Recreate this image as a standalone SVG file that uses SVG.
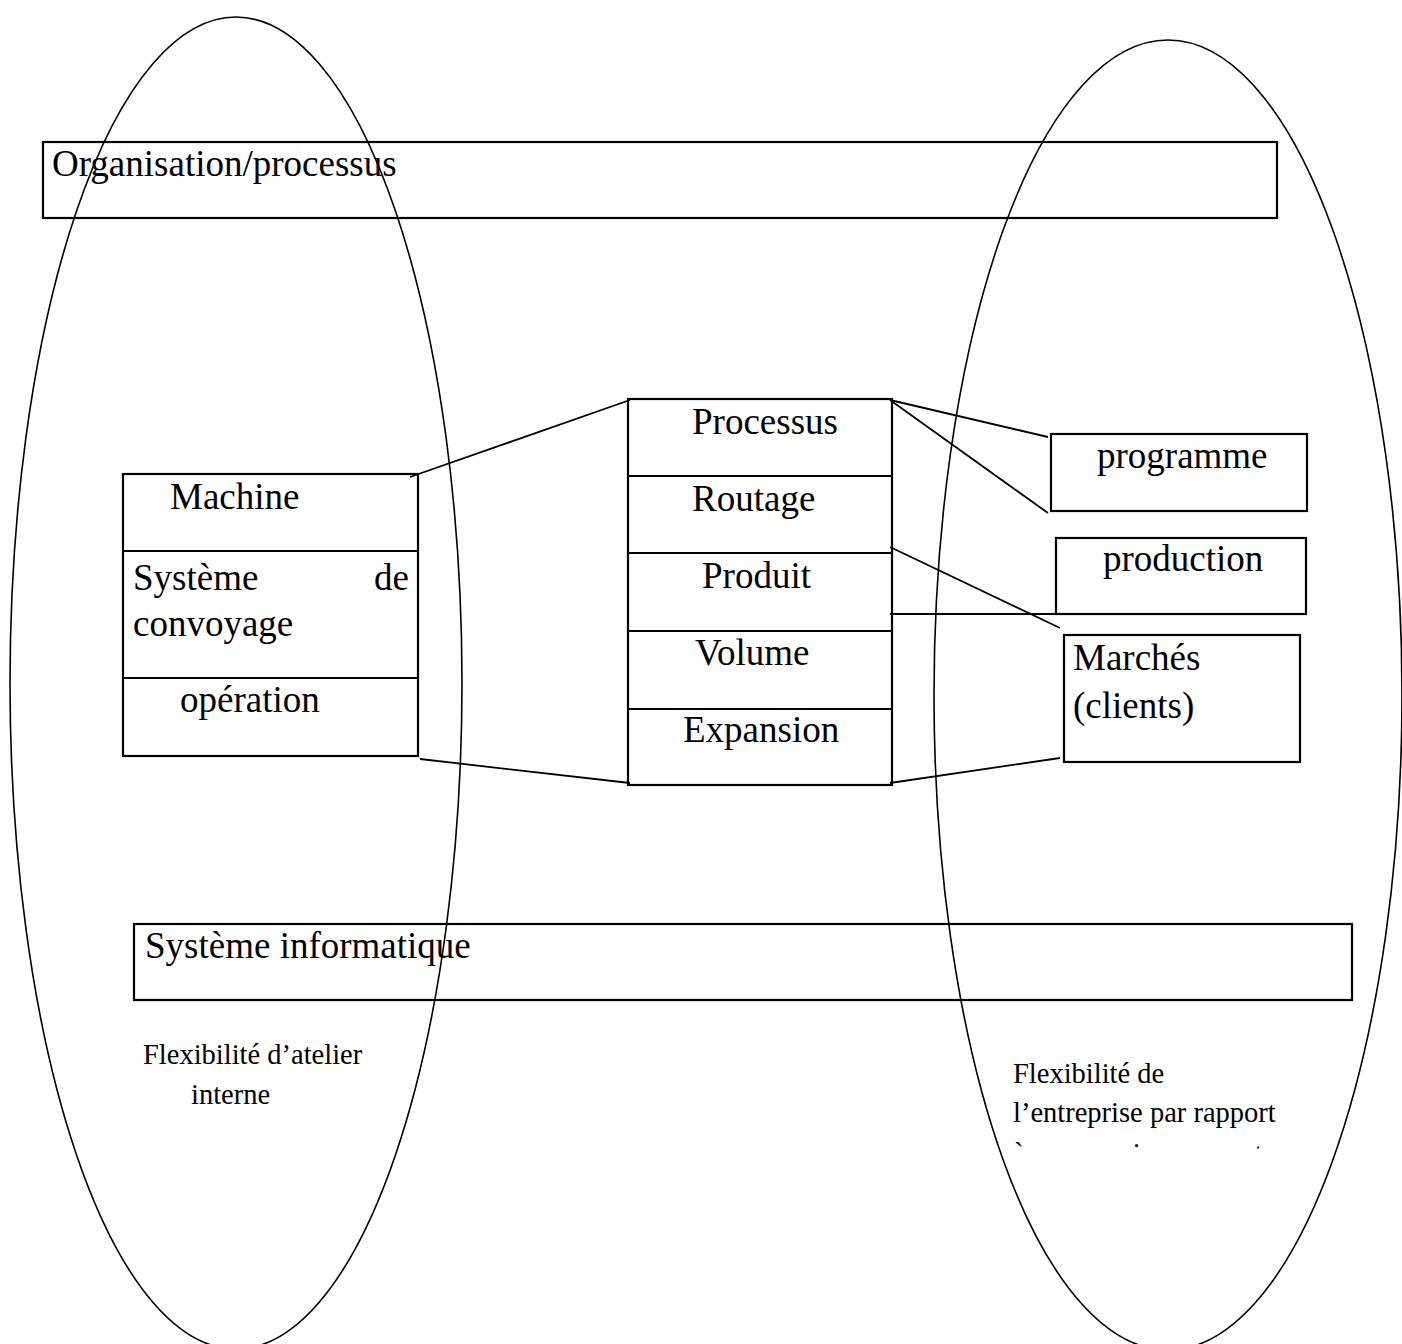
<svg xmlns="http://www.w3.org/2000/svg" width="1402" height="1344" viewBox="0 0 1402 1344">
<style>
.box{fill:none;stroke:#000;stroke-width:2.2}
.div{stroke:#000;stroke-width:2.2}
.ell{fill:none;stroke:#000;stroke-width:1.6}
.con{stroke:#000;stroke-width:1.8;fill:none}
.big{font-family:"Liberation Serif","Times New Roman",serif;font-size:37px;fill:#000}
.small{font-family:"Liberation Serif","Times New Roman",serif;font-size:28.5px;fill:#000}
</style>
<defs>
<clipPath id="clip3"><rect x="990" y="1138" width="320" height="10.5"/></clipPath>
</defs>
<rect width="1402" height="1344" fill="#fff"/>
<g id="org">
<rect class="box" x="43" y="142" width="1234" height="76"/>
<text class="big" x="52" y="176">Organisation/processus</text>
</g>
<g id="si">
<rect class="box" x="134" y="924" width="1218" height="76"/>
<text class="big" x="145" y="958">Système informatique</text>
</g>
<g id="atelier">
<rect class="box" x="123" y="474" width="295" height="282"/>
<line class="div" x1="123" y1="551" x2="418" y2="551"/>
<line class="div" x1="123" y1="678" x2="418" y2="678"/>
<text class="big" x="170" y="509">Machine</text>
<text class="big" x="133" y="590">Système</text>
<text class="big" x="409" y="590" text-anchor="end">de</text>
<text class="big" x="133" y="636">convoyage</text>
<text class="big" x="180" y="712">opération</text>
</g>
<g id="centre">
<rect class="box" x="628" y="399" width="264" height="386"/>
<line class="div" x1="628" y1="476" x2="892" y2="476"/>
<line class="div" x1="628" y1="553" x2="892" y2="553"/>
<line class="div" x1="628" y1="631" x2="892" y2="631"/>
<line class="div" x1="628" y1="709" x2="892" y2="709"/>
<text class="big" x="692" y="434">Processus</text>
<text class="big" x="692" y="511">Routage</text>
<text class="big" x="702" y="588">Produit</text>
<text class="big" x="695" y="665">Volume</text>
<text class="big" x="683" y="742">Expansion</text>
</g>
<g id="programme">
<rect class="box" x="1051" y="434" width="256" height="77"/>
<text class="big" x="1097" y="468">programme</text>
</g>
<g id="production">
<rect class="box" x="1056" y="538" width="250" height="76"/>
<text class="big" x="1103" y="571">production</text>
</g>
<g id="marches">
<rect class="box" x="1064" y="635" width="236" height="127"/>
<text class="big" x="1073" y="670">Marchés</text>
<text class="big" x="1073" y="718">(clients)</text>
</g>
<g id="connectors">
<line class="con" x1="410" y1="477" x2="630" y2="400"/>
<line class="con" x1="420" y1="759" x2="630" y2="783"/>
<line class="con" x1="890" y1="400" x2="1048" y2="437"/>
<line class="con" x1="890" y1="400" x2="1048" y2="513"/>
<line class="con" x1="890" y1="547" x2="1060" y2="628"/>
<line class="con" x1="890" y1="614" x2="1060" y2="614"/>
<line class="con" x1="890" y1="783" x2="1060" y2="758"/>
</g>
<g id="ellipse-gauche">
<ellipse class="ell" cx="236" cy="683" rx="226" ry="666"/>
<text class="small" x="143" y="1064">Flexibilité d’atelier</text>
<text class="small" x="191" y="1104">interne</text>
</g>
<g id="ellipse-droite">
<ellipse class="ell" cx="1168" cy="695" rx="234" ry="655"/>
<text class="small" x="1013" y="1083">Flexibilité de</text>
<text class="small" x="1013" y="1122">l’entreprise par rapport</text>
<text class="small" x="1013" y="1163" word-spacing="6" clip-path="url(#clip3)">à son environnement</text>
</g>
</svg>
